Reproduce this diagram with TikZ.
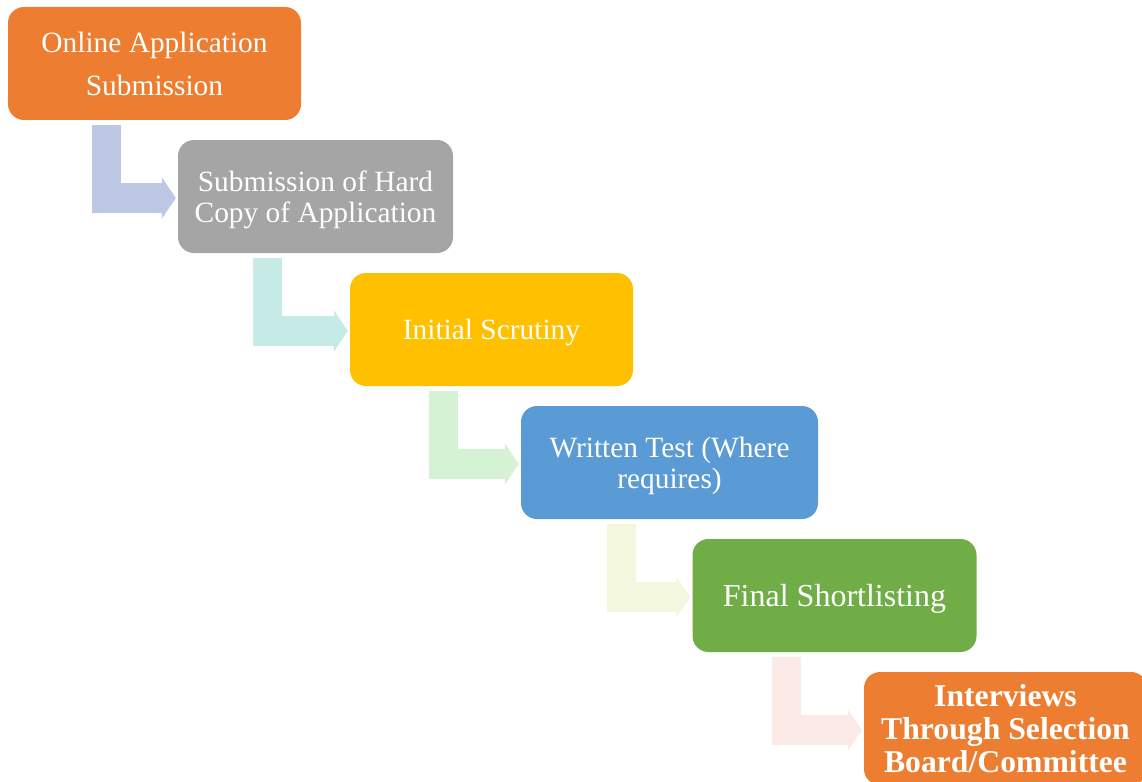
\documentclass[tikz,border=0pt]{standalone}
\usepackage{fontspec}
\setmainfont{Liberation Serif}
\usetikzlibrary{arrows.meta, calc}
\definecolor{boxorange}{HTML}{ED7D31}
\definecolor{boxgray}{HTML}{A5A5A5}
\definecolor{boxgold}{HTML}{FFC000}
\definecolor{boxblue}{HTML}{5B9BD5}
\definecolor{boxgreen}{HTML}{70AD47}
\definecolor{arrowblue}{HTML}{BDC8E4}
\definecolor{arrowteal}{HTML}{C6EBE7}
\definecolor{arrowgreen}{HTML}{D5F2D5}
\definecolor{arrowlime}{HTML}{F3F7DE}
\definecolor{arrowpink}{HTML}{FBEAE6}
\tikzset{
    x=1pt, y=-1pt, % one unit is one pixel, y runs downwards
    stage/.style={rounded corners=16pt, text=white, minimum height=113pt, inner sep=0pt, text depth=0pt, align=center, font=\fontsize{29.4}{31}\selectfont}, % the coloured boxes
    bentarrow/.style={line width=29.4pt, line join=miter, -{Triangle[length=14pt,width=41pt]}, shorten >=2pt}, % the bent arrows between boxes
}
\begin{document}
\begin{tikzpicture}
    \useasboundingbox (0,0) rectangle (1142,781);

    \node[stage, fill=boxorange, minimum width=293pt, font=\fontsize{29.4}{43}\selectfont] (s1) at (154.5,63.5) {Online Application\\Submission};
    \node[stage, fill=boxgray, minimum width=275pt] (s2) at (315.5,196.5) {Submission of Hard\\Copy of Application};
    \node[stage, fill=boxgold, minimum width=283pt] (s3) at (491.5,329.5) {Initial Scrutiny};
    \node[stage, fill=boxblue, minimum width=297pt] (s4) at (669.5,462.5) {Written Test (Where\\requires)};
    \node[stage, fill=boxgreen, minimum width=284pt, font=\fontsize{32}{34}\selectfont] (s5) at (834.5,595.5) {Final Shortlisting};
    \node[stage, fill=boxorange, minimum width=283pt, font=\fontsize{31.7}{33}\selectfont\bfseries] (s6) at (1005.5,728.5) {Interviews\\Through Selection\\Board/Committee};

    % arrows start a little below each box
    \draw[bentarrow, arrowblue] ($(s1.south)+(-48,5)$) |- ($(s2.west)+(0,1.5)$);
    \draw[bentarrow, arrowteal] ($(s2.south)+(-48,5)$) |- ($(s3.west)+(0,1.5)$);
    \draw[bentarrow, arrowgreen] ($(s3.south)+(-48,5)$) |- ($(s4.west)+(0,1.5)$);
    \draw[bentarrow, arrowlime] ($(s4.south)+(-48,5)$) |- ($(s5.west)+(0,1.5)$);
    \draw[bentarrow, arrowpink] ($(s5.south)+(-48,5)$) |- ($(s6.west)+(0,1.5)$);
\end{tikzpicture}
\end{document}
